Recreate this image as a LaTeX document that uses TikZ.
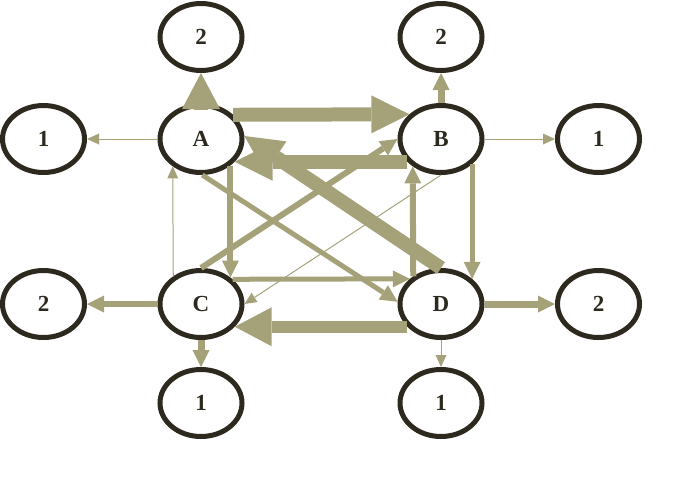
\documentclass[tikz,border=0pt]{standalone}
\usepackage{fontspec}
\setmainfont{Liberation Serif}
\usetikzlibrary{arrows.meta,shapes.geometric}
\definecolor{ink}{RGB}{45,41,30}
\definecolor{arrcol}{RGB}{165,162,122}
\tikzset{
  nd/.style={ellipse, draw=ink, line width=5pt, fill=white, minimum width=82pt, minimum height=67pt, inner sep=0pt, text=ink, font=\bfseries\fontsize{23}{24}\selectfont},
  thinar/.style={draw=arrcol, line width=1pt, -{Triangle[width=11pt,length=12pt,line width=0pt]}},
  midar/.style={draw=arrcol, line width=6pt, -{Triangle[width=17pt,length=17pt,line width=0pt]}},
  thickar/.style={draw=arrcol, line width=14pt, -{Triangle[width=38pt,length=38pt,line width=0pt]}}
}
\begin{document}
\begin{tikzpicture}[x=1pt,y=-1pt]
\useasboundingbox (0,0) rectangle (674,501);
% main nodes
\node[nd] (A) at (201,139) {A};
\node[nd] (B) at (441,139) {B};
\node[nd] (C) at (201,304) {C};
\node[nd] (D) at (441,304) {D};
% leaf nodes
\node[nd] (tA) at (201,37) {2};
\node[nd] (lA) at (43.5,139) {1};
\node[nd] (tB) at (441,37) {2};
\node[nd] (rB) at (598.5,139) {1};
\node[nd] (lC) at (43.5,304) {2};
\node[nd] (bC) at (201,403) {1};
\node[nd] (rD) at (598.5,304) {2};
\node[nd] (bD) at (441,403) {1};
% arrows to leaves
\draw[thickar, -{Triangle[width=38pt,length=36pt,line width=0pt]}] ([yshift=-7pt]A.north) -- (tA.south);
\draw[thinar] (A.west) -- (lA.east);
\draw[midar, line width=7pt] (B.north) -- (tB.south);
\draw[thinar] (B.east) -- (rB.west);
\draw[midar] (C.west) -- (lC.east);
\draw[midar, line width=7pt] (C.south) -- (bC.north);
\draw[midar, line width=7pt] (D.east) -- (rD.west);
\draw[thinar] (D.south) -- (bD.north);
% inner arrows
\draw[thickar] (A.37.5) -- (B.142.5);
\draw[thickar] (B.214.5) -- (A.-34.5);
\draw[thickar] (D.north) -- (A.4);
\draw[midar, line width=5pt] (A.-88) -- (D.177);
\draw[midar] (C.north) -- (B.west);
\draw[thinar] (B.south) -- (C.east);
\draw[midar] (A.-42.7) -- (C.42.7);
\draw[midar, line width=5pt] (C.38.6) -- (D.141.4);
\draw[midar] (D.135.5) -- (B.224.5);
\draw[midar, line width=5pt] (B.-39.2) -- (D.39.2);
\draw[thinar] (C.135.5) -- (A.224.5);
\draw[thickar, line width=12pt, -{Triangle[width=39pt,length=37pt,line width=0pt]}] (D.214.5) -- (C.-34.5);
\end{tikzpicture}
\end{document}
